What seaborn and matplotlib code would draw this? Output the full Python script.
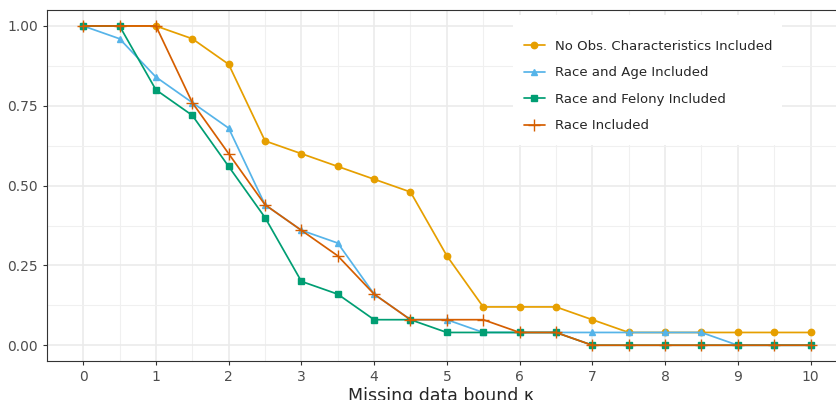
import numpy as np
import pandas as pd
import seaborn as sns
import matplotlib.pyplot as plt
from matplotlib.ticker import MultipleLocator
from matplotlib.patches import Rectangle

kappa = [0, 0.5, 1, 1.5, 2, 2.5, 3, 3.5, 4, 4.5, 5, 5.5, 6, 6.5, 7, 7.5, 8, 8.5, 9, 9.5, 10]
no_obs = [1, 1, 1, 0.96, 0.88, 0.64, 0.60, 0.56, 0.52, 0.48, 0.28, 0.12, 0.12, 0.12, 0.08, 0.04, 0.04, 0.04, 0.04, 0.04, 0.04]
race_age = [1, 0.96, 0.84, 0.76, 0.68, 0.44, 0.36, 0.32, 0.16, 0.08, 0.08, 0.04, 0.04, 0.04, 0.04, 0.04, 0.04, 0.04, 0, 0, 0]
race_felony = [1, 1, 0.80, 0.72, 0.56, 0.40, 0.20, 0.16, 0.08, 0.08, 0.04, 0.04, 0.04, 0.04, 0, 0, 0, 0, 0, 0, 0]
race = [1, 1, 1, 0.76, 0.60, 0.44, 0.36, 0.28, 0.16, 0.08, 0.08, 0.08, 0.04, 0.04, 0, 0, 0, 0, 0, 0, 0]

labels = ['No Obs. Characteristics Included', 'Race and Age Included',
          'Race and Felony Included', 'Race Included']
colors = ['#E69F00', '#56B4E9', '#009E73', '#D55E00']
markers = ['o', '^', 's', '+']

sns.set_style('whitegrid')
plt.rcParams['font.family'] = ['DejaVu Sans']

fig, ax = plt.subplots(figsize=(8.36, 4), dpi=100)
for vals, lab, c, m in zip([no_obs, race_age, race_felony, race], labels, colors, markers):
    d = pd.DataFrame({'kappa': kappa, 'value': vals})
    sns.lineplot(data=d, x='kappa', y='value', color=c, marker=m, label=lab,
                 markersize=8 if m == '+' else 4.6, markeredgecolor=c,
                 markeredgewidth=1.0, linewidth=1.25, ax=ax)

ax.set_xlim(-0.5, 10.35)
ax.set_ylim(-0.05, 1.05)
ax.xaxis.set_major_locator(MultipleLocator(1))
ax.xaxis.set_minor_locator(MultipleLocator(0.5))
ax.yaxis.set_major_locator(MultipleLocator(0.25))
ax.yaxis.set_minor_locator(MultipleLocator(0.125))
ax.yaxis.set_major_formatter(plt.FormatStrFormatter('%.2f'))
ax.grid(which='major', color='#ebebeb', linewidth=1.2)
ax.grid(which='minor', color='#f0f0f0', linewidth=0.8)
ax.tick_params(axis='both', which='major', labelsize=10, labelcolor='#4d4d4d',
               length=3, color='#333333', left=True, bottom=True)
ax.tick_params(axis='both', which='minor', length=0)
for s in ['left', 'bottom', 'top']:
    ax.spines[s].set_color('#333333')
    ax.spines[s].set_linewidth(0.8)
ax.spines['right'].set_visible(False)
ax.set_xlabel('Missing data bound κ', fontsize=12.5, labelpad=2)
ax.set_ylabel('')

# white legend background box (ggplot style, no border)
ax.add_patch(Rectangle((0.591, 0.615), 0.341, 0.371, transform=ax.transAxes,
                       facecolor='white', edgecolor='none', zorder=1.5))
leg = ax.legend(loc='upper left', bbox_to_anchor=(0.5957, 0.934), frameon=False,
                fontsize=9.5, labelspacing=1.02, borderpad=0, handlelength=1.6,
                handletextpad=0.8)

fig.subplots_adjust(left=0.056, right=1.0, top=0.975, bottom=0.097)
plt.savefig('out.png')
plt.close()
